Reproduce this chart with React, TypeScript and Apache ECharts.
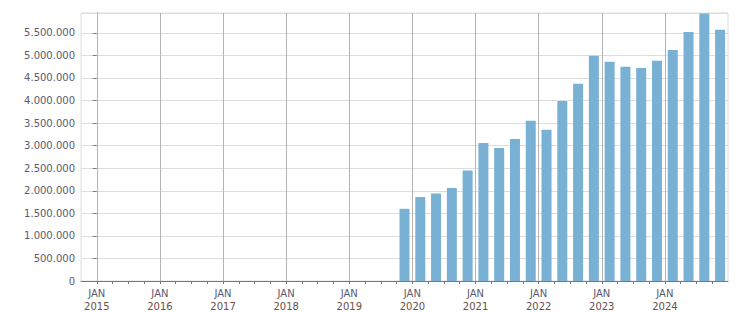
import React, { useEffect, useRef } from "react";
import * as echarts from "echarts";

// Quarterly periods (bars placed at mid-quarter)
const quarters = [
  "2019-Q4",
  "2020-Q1", "2020-Q2", "2020-Q3", "2020-Q4",
  "2021-Q1", "2021-Q2", "2021-Q3", "2021-Q4",
  "2022-Q1", "2022-Q2", "2022-Q3", "2022-Q4",
  "2023-Q1", "2023-Q2", "2023-Q3", "2023-Q4",
  "2024-Q1", "2024-Q2", "2024-Q3", "2024-Q4",
];

const values = [
  1600000,
  1860000, 1940000, 2060000, 2450000,
  3060000, 2950000, 3150000, 3550000,
  3350000, 3990000, 4370000, 4990000,
  4860000, 4750000, 4720000, 4880000,
  5120000, 5520000, 5930000, 5570000,
];

const years = [2015, 2016, 2017, 2018, 2019, 2020, 2021, 2022, 2023, 2024];
const baseYear = 2015;

// months since Jan of base year
const quarterToMonths = (q: string) => {
  const [y, qq] = q.split("-Q");
  return (Number(y) - baseYear) * 12 + (Number(qq) - 1) * 3 + 1.5;
};

const fmtThousands = (v: number) =>
  String(Math.round(v)).replace(/\B(?=(\d{3})+(?!\d))/g, ".");

export default function App() {
  const ref = useRef<HTMLDivElement>(null);

  useEffect(() => {
    if (!ref.current) return;
    const chart = echarts.init(ref.current, undefined, { renderer: "svg" });
    const font = "DejaVu Sans";
    chart.setOption({
      animation: false,
      grid: {
        left: 81,
        right: 23,
        top: 13,
        bottom: 32,
        show: true,
        borderColor: "#dcdcdc",
        borderWidth: 1,
        containLabel: false,
      },
      xAxis: {
        type: "value",
        min: -3,
        max: 120,
        interval: 3,
        axisLine: { show: true, lineStyle: { color: "#7a7a7a", width: 1 } },
        axisTick: { show: true, length: 3, lineStyle: { color: "#7a7a7a" } },
        splitLine: { show: false },
        axisLabel: {
          margin: 6,
          fontFamily: font,
          fontSize: 10,
          lineHeight: 13,
          showMinLabel: false,
          showMaxLabel: false,
          formatter: (v: number) => {
            const m = Math.round(v);
            if (m >= 0 && m % 12 === 0 && m < 120) {
              return `{a|JAN}\n{b|${baseYear + m / 12}}`;
            }
            return "";
          },
          rich: {
            a: { color: "#5a5a70", fontFamily: font, fontSize: 10, lineHeight: 13 },
            b: { color: "#6a5048", fontFamily: font, fontSize: 10, lineHeight: 13 },
          },
        },
      },
      yAxis: {
        type: "value",
        min: 0,
        max: 5940000,
        interval: 500000,
        axisLine: { show: true, lineStyle: { color: "#7a7a7a", width: 1 } },
        axisTick: { show: true, length: 4, lineStyle: { color: "#7a7a7a" } },
        splitLine: { show: true, lineStyle: { color: "#dddddd", width: 1 } },
        axisLabel: {
          margin: 6,
          fontFamily: font,
          fontSize: 10,
          color: "#5a5a70",
          showMaxLabel: false,
          formatter: (v: number) => (v > 5600000 ? "" : fmtThousands(v)),
        },
      },
      series: [
        {
          type: "bar",
          barWidth: 10,
          itemStyle: { color: "#78b1d4" },
          data: quarters.map((q, i) => [quarterToMonths(q), values[i]]),
          markLine: {
            silent: true,
            symbol: ["none", "none"],
            label: { show: false },
            lineStyle: { color: "#b4b4b4", width: 1, type: "solid" },
            data: years.map((y) => ({ xAxis: (y - baseYear) * 12 })),
          },
        },
      ],
    });
    return () => chart.dispose();
  }, []);

  return (
    <div
      ref={ref}
      style={{ position: "absolute", left: 0, top: 0, width: 751, height: 313 }}
    />
  );
}
